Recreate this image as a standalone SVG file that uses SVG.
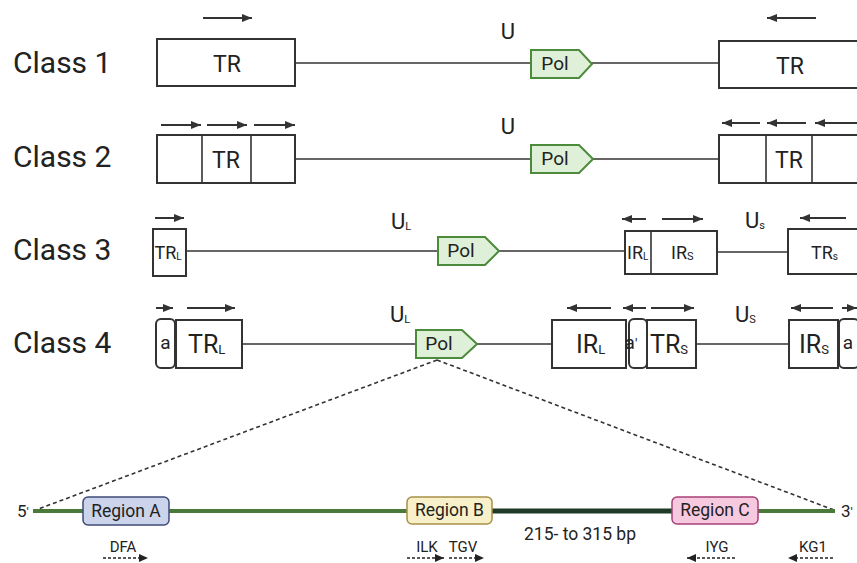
<svg xmlns="http://www.w3.org/2000/svg" width="857" height="563" viewBox="0 0 857 563">
<defs>
<marker id="ah" markerUnits="userSpaceOnUse" markerWidth="10" markerHeight="8" refX="10" refY="4" orient="auto"><path d="M0,0 L10,4 L0,8 z" fill="#333"/></marker>
<marker id="ahs" markerUnits="userSpaceOnUse" markerWidth="9" markerHeight="8" refX="9" refY="4" orient="auto"><path d="M0,0 L9,4 L0,8 z" fill="#222"/></marker>
</defs>
<style>
text{font-family:Roboto,"Liberation Sans",sans-serif;fill:#222}
.cls{font-size:30px}
.box{fill:#fff;stroke:#333;stroke-width:2}
.ln{stroke:#333;stroke-width:1.6;fill:none}
.arr{stroke:#333;stroke-width:2;fill:none;marker-end:url(#ah)}
.pol{fill:#dff0d8;stroke:#4c8a3c;stroke-width:2}
.pt{font-size:19px;text-anchor:middle}
.lab{font-size:23px;text-anchor:middle}
.big{font-size:25px}
.sm{font-size:18px}
.u{font-size:22px}
.dash{stroke:#333;stroke-width:1.6;stroke-dasharray:4 3;fill:none}
.da{stroke:#222;stroke-width:1.5;stroke-dasharray:3 2;fill:none;marker-end:url(#ahs)}
.rt{font-size:17.5px;text-anchor:middle}
.pr{font-size:15px;text-anchor:middle}
</style>
<rect width="857" height="563" fill="#fff"/>

<g id="labels">
<text class="cls" x="13" y="73">Class 1</text>
<text class="cls" x="13" y="167">Class 2</text>
<text class="cls" x="13" y="260">Class 3</text>
<text class="cls" x="13" y="353">Class 4</text>
</g>

<g id="connectors">
<line class="ln" x1="295" y1="63" x2="719" y2="63"/>
<line class="ln" x1="295" y1="159" x2="719" y2="159"/>
<line class="ln" x1="186" y1="251" x2="625" y2="251"/>
<line class="ln" x1="717" y1="252" x2="788" y2="252"/>
<line class="ln" x1="242" y1="344" x2="552" y2="344"/>
<line class="ln" x1="696" y1="344" x2="789" y2="344"/>
<line class="arr" x1="203" y1="18" x2="252" y2="18"/>
<line class="arr" x1="816" y1="18" x2="767" y2="18"/>
<line class="arr" x1="161" y1="125" x2="201" y2="125"/>
<line class="arr" x1="207" y1="125" x2="247" y2="125"/>
<line class="arr" x1="254" y1="125" x2="295" y2="125"/>
<line class="arr" x1="760" y1="123" x2="722" y2="123"/>
<line class="arr" x1="806" y1="123" x2="767" y2="123"/>
<line class="arr" x1="857" y1="123" x2="815" y2="123"/>
<line class="arr" x1="155" y1="218" x2="184" y2="218"/>
<line class="arr" x1="646" y1="219" x2="622" y2="219"/>
<line class="arr" x1="662" y1="219" x2="703" y2="219"/>
<line class="arr" x1="846" y1="218" x2="800" y2="218"/>
<line class="arr" x1="156" y1="308" x2="173" y2="308"/>
<line class="arr" x1="187" y1="308" x2="235" y2="308"/>
<line class="arr" x1="611" y1="308" x2="567" y2="308"/>
<line class="arr" x1="646" y1="308" x2="623" y2="308"/>
<line class="arr" x1="651" y1="308" x2="694" y2="308"/>
<line class="arr" x1="833" y1="308" x2="791" y2="308"/>
<line class="arr" x1="842" y1="308" x2="857" y2="308"/>
<line class="dash" x1="437" y1="360" x2="33" y2="511"/>
<line class="dash" x1="437" y1="360" x2="834" y2="510"/>
<line x1="33" y1="511" x2="835" y2="511" stroke="#4a7a3a" stroke-width="4"/>
<line x1="492" y1="511" x2="673" y2="511" stroke="#1f3a26" stroke-width="5"/>
<line class="da" x1="103" y1="558" x2="148" y2="558"/>
<line class="da" x1="407" y1="558" x2="444" y2="558"/>
<line class="da" x1="449" y1="558" x2="484" y2="558"/>
<line class="da" x1="735" y1="558" x2="687" y2="558"/>
<line class="da" x1="833" y1="558" x2="788" y2="558"/>
</g>

<g id="class1">
<rect class="box" x="157" y="39" width="138" height="47"/>
<text class="lab" x="227" y="72">TR</text>
<rect class="box" x="719" y="41" width="140" height="47"/>
<text class="lab" x="790" y="74">TR</text>
<text class="u" x="508" y="39" text-anchor="middle">U</text>
<polygon class="pol" points="531,50 579,50 592,64 579,78 531,78"/>
<text class="pt" x="555" y="70">Pol</text>
</g>

<g id="class2">
<rect class="box" x="157" y="135" width="138" height="48"/>
<line class="ln" x1="202" y1="135" x2="202" y2="183" stroke-width="2"/>
<line class="ln" x1="251" y1="135" x2="251" y2="183" stroke-width="2"/>
<text class="lab" x="226" y="168">TR</text>
<rect class="box" x="719" y="135" width="140" height="48"/>
<line class="ln" x1="766" y1="135" x2="766" y2="183" stroke-width="2"/>
<line class="ln" x1="812" y1="135" x2="812" y2="183" stroke-width="2"/>
<text class="lab" x="789" y="168">TR</text>
<text class="u" x="508" y="134" text-anchor="middle">U</text>
<polygon class="pol" points="531,145 579,145 593,159 579,173 531,173"/>
<text class="pt" x="555" y="165">Pol</text>
</g>

<g id="class3">
<rect class="box" x="153" y="229" width="33" height="47"/>
<text class="sm" x="154.5" y="259">TR<tspan font-size="10" dy="1">L</tspan></text>
<text class="u" x="391" y="229">U<tspan font-size="11" dy="1">L</tspan></text>
<polygon class="pol" points="438,237 485,237 499,251 485,265 438,265"/>
<text class="pt" x="461" y="257">Pol</text>
<rect class="box" x="625" y="231" width="92" height="43"/>
<line class="ln" x1="651" y1="231" x2="651" y2="274" stroke-width="2"/>
<text class="sm" x="627" y="259">IR<tspan font-size="10" dy="1">L</tspan></text>
<text class="sm" x="671" y="259">IR<tspan font-size="11" dy="1">S</tspan></text>
<text class="u" x="745" y="228">U<tspan font-size="11" dy="1">s</tspan></text>
<rect class="box" x="788" y="229" width="71" height="45"/>
<text class="sm" x="811" y="259">TR<tspan font-size="10" dy="1">s</tspan></text>
</g>

<g id="class4">
<rect class="box" x="156" y="319" width="19" height="49" rx="5"/>
<text class="pt" x="165.5" y="349">a</text>
<rect class="box" x="176" y="320" width="66" height="48"/>
<text class="big" x="188" y="353">TR<tspan font-size="13" dy="1">L</tspan></text>
<text class="u" x="390" y="322">U<tspan font-size="11" dy="1">L</tspan></text>
<polygon class="pol" points="416,330 462,330 477,344 462,358 416,358"/>
<text class="pt" x="439" y="350">Pol</text>
<rect class="box" x="552" y="320" width="74" height="48"/>
<text class="big" x="576" y="353">IR<tspan font-size="13" dy="1">L</tspan></text>
<rect class="box" x="629" y="319" width="18" height="49" rx="5"/>
<text class="pt" x="631" y="349" text-anchor="start">a<tspan font-size="14">'</tspan></text>
<rect class="box" x="647" y="320" width="49" height="48"/>
<text class="big" x="650" y="353">TR<tspan font-size="13" dy="1">S</tspan></text>
<text class="u" x="735" y="322">U<tspan font-size="11" dy="1">S</tspan></text>
<rect class="box" x="789" y="320" width="49" height="48"/>
<text class="big" x="799" y="353">IR<tspan font-size="13" dy="1">S</tspan></text>
<rect class="box" x="839" y="319" width="20" height="49" rx="5"/>
<text class="pt" x="848" y="349">a</text>
</g>

<g id="pol-detail">
<text x="17" y="517" font-size="17">5<tspan font-size="13">'</tspan></text>
<text x="841" y="517" font-size="17">3<tspan font-size="13">'</tspan></text>
<g id="regionA">
<rect x="83" y="497" width="86" height="28" rx="5" fill="#cbd4ea" stroke="#3f4b78" stroke-width="1.5"/>
<text class="rt" x="126" y="517">Region A</text>
</g>
<g id="regionB">
<rect x="407" y="497" width="85" height="27" rx="5" fill="#f8f0c8" stroke="#a8904a" stroke-width="1.5"/>
<text class="rt" x="449.5" y="516">Region B</text>
</g>
<g id="regionC">
<rect x="672" y="497" width="86" height="27" rx="5" fill="#f7c9df" stroke="#a8407a" stroke-width="1.5"/>
<text class="rt" x="715" y="516">Region C</text>
</g>
<text class="rt" x="580" y="540" font-size="18">215- to 315 bp</text>
<text class="pr" x="123" y="552">DFA</text>
<text class="pr" x="427" y="552">ILK</text>
<text class="pr" x="463" y="552">TGV</text>
<text class="pr" x="717" y="552">IYG</text>
<text class="pr" x="813" y="552">KG1</text>
</g>
</svg>
